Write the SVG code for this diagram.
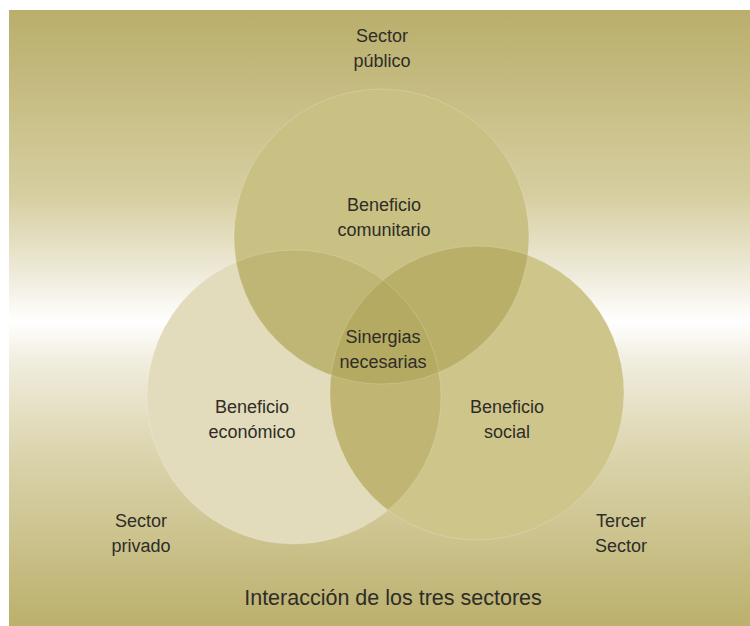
<svg xmlns="http://www.w3.org/2000/svg" width="750" height="626" viewBox="0 0 750 626">
  <style>
    text { font-family: "Liberation Sans", Arial, sans-serif; font-size: 18px; fill: #2e2d28; text-anchor: middle; }
    .title { font-size: 21.5px; }
    .edge { fill: none; stroke: #ffffff; stroke-opacity: 0.18; stroke-width: 1; }
  </style>
  <defs>
    <linearGradient id="bg" x1="0" y1="10" x2="0" y2="626" gradientUnits="userSpaceOnUse">
      <stop offset="0" stop-color="#B9AE6B"/>
      <stop offset="0.3" stop-color="#D6CEA0"/>
      <stop offset="0.44" stop-color="#F1EDDF"/>
      <stop offset="0.506" stop-color="#FFFFFF"/>
      <stop offset="0.57" stop-color="#F1EDDF"/>
      <stop offset="0.72" stop-color="#DBD4AD"/>
      <stop offset="1" stop-color="#BBB06C"/>
    </linearGradient>
    <clipPath id="cTop"><circle cx="381.5" cy="236.5" r="147.5"/></clipPath>
    <clipPath id="cLeft"><circle cx="294" cy="397" r="147"/></clipPath>
    <clipPath id="cRight"><circle cx="477" cy="393" r="147"/></clipPath>
  </defs>

  <rect x="9" y="10" width="741" height="616" fill="url(#bg)"/>

  <g id="circle-privado">
    <circle cx="294" cy="397" r="147" fill="#E2DBBC"/>
  </g>
  <g id="circle-tercer">
    <circle cx="477" cy="393" r="147" fill="#CEC58B"/>
  </g>
  <g id="circle-publico">
    <circle cx="381.5" cy="236.5" r="147.5" fill="#C9C084"/>
  </g>

  <g id="overlaps">
    <g clip-path="url(#cLeft)">
      <circle cx="477" cy="393" r="147" fill="#C0B573"/>
      <circle cx="381.5" cy="236.5" r="147.5" fill="#BFB574"/>
    </g>
    <g clip-path="url(#cRight)">
      <circle cx="381.5" cy="236.5" r="147.5" fill="#BAAF69"/>
    </g>
    <g clip-path="url(#cTop)">
      <g clip-path="url(#cRight)">
        <circle cx="294" cy="397" r="147" fill="#B5AA62"/>
      </g>
    </g>
    <circle class="edge" cx="294" cy="397" r="147"/>
    <circle class="edge" cx="477" cy="393" r="147"/>
    <circle class="edge" cx="381.5" cy="236.5" r="147.5"/>
  </g>

  <g id="labels">
    <text x="382" y="42">Sector</text>
    <text x="382" y="67">público</text>
    <text x="384" y="211">Beneficio</text>
    <text x="384" y="236">comunitario</text>
    <text x="383" y="343">Sinergias</text>
    <text x="383" y="368">necesarias</text>
    <text x="252" y="413">Beneficio</text>
    <text x="252" y="438">económico</text>
    <text x="507" y="413">Beneficio</text>
    <text x="507" y="438">social</text>
    <text x="141" y="527">Sector</text>
    <text x="141" y="552">privado</text>
    <text x="621" y="527">Tercer</text>
    <text x="621" y="552">Sector</text>
    <text class="title" x="393" y="605">Interacción de los tres sectores</text>
  </g>
</svg>
